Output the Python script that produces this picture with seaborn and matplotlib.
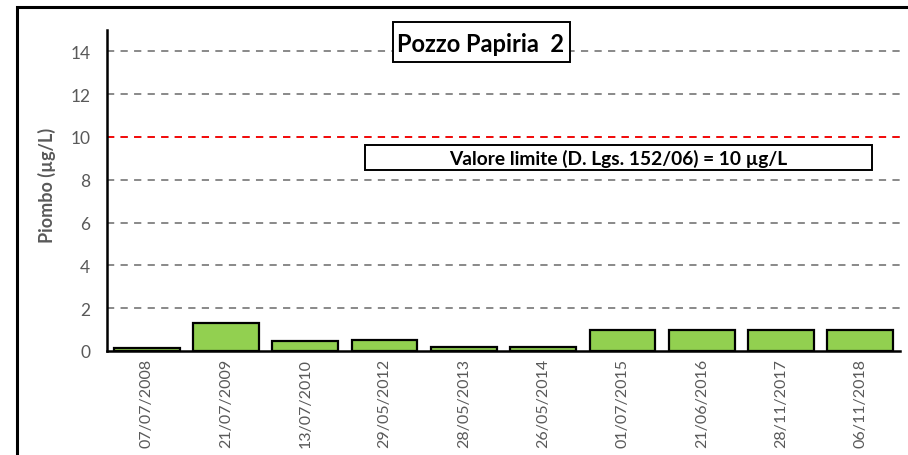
import matplotlib
matplotlib.use('Agg')
import matplotlib.pyplot as plt
import matplotlib.patches as mpatches
import seaborn as sns
import pandas as pd

# dati
date = ["07/07/2008", "21/07/2009", "13/07/2010", "29/05/2012", "28/05/2013",
        "26/05/2014", "01/07/2015", "21/06/2016", "28/11/2017", "06/11/2018"]
piombo = [0.15, 1.3, 0.45, 0.5, 0.2, 0.2, 1.0, 1.0, 1.0, 1.0]
limite = 10
titolo = "Pozzo Papiria  2"
testo_limite = "Valore limite (D. Lgs. 152/06) = 10 µg/L"
y_ticks = [0, 2, 4, 6, 8, 10, 12, 14]

df = pd.DataFrame({"data": date, "piombo": piombo})

sns.set_style("white")
plt.rcParams['font.family'] = ['Lato', 'DejaVu Sans']

W, H = 908, 456
fig = plt.figure(figsize=(W / 100, H / 100), dpi=100)
ax = fig.add_axes([107 / W, 1 - 352 / H, (900 - 107) / W, (352 - 31) / H])

# cornice esterna
fig.patches.append(mpatches.Rectangle((17 / W, -0.1), 2, 1.1 - 8 / H,
                                      transform=fig.transFigure, fill=False,
                                      edgecolor='black', linewidth=2.2, zorder=0))

sns.barplot(data=df, x="data", y="piombo", color="#92D050", edgecolor="black",
            linewidth=1.6, width=0.83, saturation=1, ax=ax, zorder=3)

ax.set_ylim(0, 15)
ax.set_xlim(-0.5, len(date) - 0.5)
ax.set_yticks(y_ticks)
for v in y_ticks:
    if v == 0:
        continue
    ax.axhline(v, color="#808080", linestyle=(0, (4, 3.5)), linewidth=1.3, zorder=1)
ax.axhline(limite, color="#FF0000", linestyle=(0, (4, 3.5)), linewidth=1.3, zorder=2)

ax.set_xlabel("")
ax.set_ylabel("Piombo (µg/L)", fontsize=13, fontweight="bold", color="#595959")
ax.yaxis.set_label_coords(-0.064, 0.52)
ax.tick_params(axis='y', length=0, labelsize=12.5, labelcolor="#595959", pad=12)
ax.tick_params(axis='x', which='major', length=0, labelsize=11.5, labelcolor="#595959",
               rotation=90, pad=5)
ax.set_xticks([i - 0.5 for i in range(len(date) + 1)], minor=True)
ax.tick_params(axis='x', which='minor', length=5, width=1.6, color='black', direction='out')

for s in ["top", "right"]:
    ax.spines[s].set_visible(False)
for s in ["left", "bottom"]:
    ax.spines[s].set_color("black")
    ax.spines[s].set_linewidth(1.8)
    ax.spines[s].set_zorder(4)

# riquadro titolo
fig.patches.append(mpatches.Rectangle((393 / W, 1 - 63 / H), (570 - 393) / W, 40 / H,
                                      transform=fig.transFigure, facecolor='white',
                                      edgecolor='black', linewidth=1.4, zorder=5))
fig.text(481 / W, 1 - 44 / H, titolo, ha='center', va='center',
         fontsize=17, fontweight='bold', color='black', zorder=6)

# riquadro valore limite
fig.patches.append(mpatches.Rectangle((365 / W, 1 - 171 / H), (872 - 365) / W, 25 / H,
                                      transform=fig.transFigure, facecolor='white',
                                      edgecolor='black', linewidth=1.4, zorder=5))
fig.text(618 / W, 1 - 159 / H, testo_limite, ha='center', va='center',
         fontsize=13.8, fontweight='bold', color='black', zorder=6)

fig.savefig("out.png", dpi=100)
